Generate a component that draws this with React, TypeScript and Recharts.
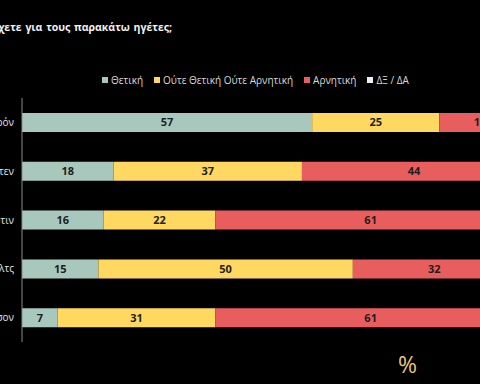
import { BarChart, Bar, XAxis, YAxis, Legend, LabelList } from 'recharts';

const leaders = ['Μακρόν', 'Μπάιντεν', 'Πούτιν', 'Σολτς', 'Τζόνσον'];
const positive = [57, 18, 16, 15, 7];
const neutral = [25, 37, 22, 50, 31];
const negative = [16, 44, 61, 32, 61];
const dontKnow = [2, 1, 1, 3, 1];

const series = [
  { key: 'pos', name: 'Θετική', color: '#A9C8BD', values: positive },
  { key: 'neu', name: 'Ούτε Θετική Ούτε Αρνητική', color: '#FFD862', values: neutral },
  { key: 'neg', name: 'Αρνητική', color: '#E85D5E', values: negative },
  { key: 'dk', name: 'ΔΞ / ΔΑ', color: '#EEEEEE', values: dontKnow },
];

const data = leaders.map((name, i) => {
  const row: Record<string, string | number> = { name };
  series.forEach(s => { row[s.key] = s.values[i]; });
  return row;
});

const font = '"Open Sans", "DejaVu Sans", sans-serif';

const renderLegend = () => (
  <div style={{ display: 'flex', alignItems: 'center', whiteSpace: 'nowrap', fontSize: 10, color: '#d8d8d8', fontFamily: font }}>
    {series.map(s => (
      <span key={s.key} style={{ display: 'inline-flex', alignItems: 'center', marginRight: 11 }}>
        <span style={{ width: 6, height: 6, background: s.color, display: 'inline-block', marginRight: 3 }} />
        {s.name}
      </span>
    ))}
  </div>
);

export default function App() {
  return (
    <div style={{ position: 'fixed', left: 0, top: 0, width: 480, height: 384, overflow: 'hidden', background: '#000', fontFamily: font }}>
      <div style={{ position: 'absolute', right: 308, top: 20, whiteSpace: 'nowrap', color: '#f2f2f2', fontSize: 10.5, fontWeight: 700, wordSpacing: 1 }}>
        Τι γνώμη έχετε για τους παρακάτω ηγέτες;
      </div>
      <div style={{ position: 'absolute', left: -58, top: 0 }}>
        <BarChart
          width={589}
          height={384}
          data={data}
          layout="vertical"
          margin={{ top: 98, right: 0, bottom: 42, left: 0 }}
        >
          <XAxis type="number" domain={[0, 100]} hide />
          <YAxis
            type="category"
            dataKey="name"
            width={80}
            axisLine={{ stroke: '#8a8a8a' }}
            tickLine={false}
            tick={{ fill: '#e4e4e4', fontSize: 10, fontFamily: font }}
          />
          <Legend
            layout="vertical"
            verticalAlign="middle"
            align="center"
            content={renderLegend}
            wrapperStyle={{ position: 'absolute', top: 73, left: 160, width: 'auto', height: 'auto' }}
          />
          {series.map(s => (
            <Bar key={s.key} dataKey={s.key} name={s.name} stackId="a" fill={s.color} barSize={19} isAnimationActive={false}>
              <LabelList dataKey={s.key} position="center" fill="#1e1e1e" fontSize={11} fontWeight={700} fontFamily={font} />
            </Bar>
          ))}
        </BarChart>
      </div>
      <div style={{ position: 'absolute', left: 398, top: 348, color: '#E9C77B', fontSize: 23, fontWeight: 400 }}>%</div>
    </div>
  );
}
